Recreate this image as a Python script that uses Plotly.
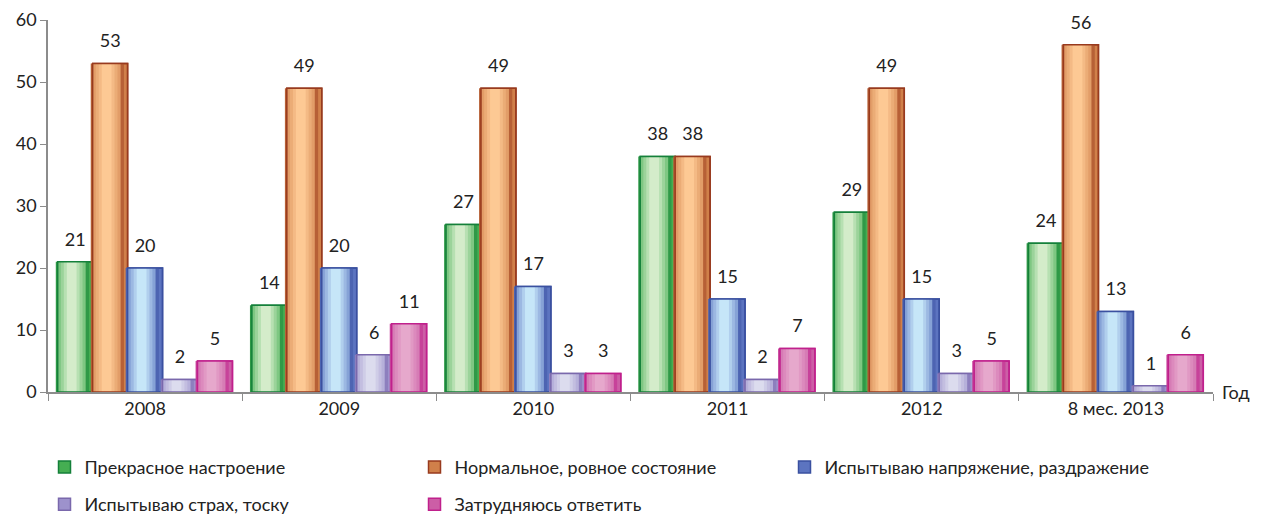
import plotly.graph_objects as go

categories = ["2008", "2009", "2010", "2011", "2012", "8 мес. 2013"]
series_names = [
    "Прекрасное настроение",
    "Нормальное, ровное состояние",
    "Испытываю напряжение, раздражение",
    "Испытываю страх, тоску",
    "Затрудняюсь ответить",
]
great_mood = [21, 14, 27, 38, 29, 24]
normal_state = [53, 49, 49, 38, 49, 56]
tension = [20, 20, 17, 15, 15, 13]
fear = [2, 6, 3, 2, 3, 1]
no_answer = [5, 11, 3, 7, 5, 6]
series_values = [great_mood, normal_state, tension, fear, no_answer]
y_ticks = [0, 10, 20, 30, 40, 50, 60]

# (edge, mid, light) colours per series
palettes = [
    ("#14803a", "#45ae52", "#d4ecca"),
    ("#983a1e", "#d0804a", "#fdc994"),
    ("#3a50a0", "#5c74c0", "#c6e6f8"),
    ("#7a68ac", "#9d92cc", "#dcdcee"),
    ("#c0208c", "#cc5ea6", "#e6a8cc"),
]

def mix(c1, c2, t):
    a = [int(c1[i:i + 2], 16) for i in (1, 3, 5)]
    b = [int(c2[i:i + 2], 16) for i in (1, 3, 5)]
    return "#" + "".join(f"{round(a[k] + (b[k] - a[k]) * t):02x}" for k in range(3))

FONT = "Lato, Open Sans, Noto Sans, sans-serif"
FS = 18
LABEL_GAP = 1.5  # visual gap (axis units) between bar top and its value label
n = len(series_values)
bw = 0.9 / n
fig = go.Figure()

for i, (name, vals) in enumerate(zip(series_names, series_values)):
    edge, mid, light = palettes[i]
    off = -0.45 + i * bw
    # base bar (legend entry)
    fig.add_trace(go.Bar(
        x=categories, y=vals, name=name, width=bw, offset=off,
        marker=dict(color=mid, line=dict(color=edge, width=1.5)),
        legend="legend" if i < 3 else "legend2",
    ))
    # gradient layers (cylinder shading, highlight left of centre)
    fracs = [0.95, 0.8, 0.62, 0.45, 0.28]
    center = off + bw * 0.40
    for k, f in enumerate(fracs):
        t = (k + 1) / len(fracs)
        col = mix(mid, light, t)
        w = bw * f
        fig.add_trace(go.Bar(
            x=categories, y=vals, width=w, offset=center - w / 2 + (0.02 * bw if k == 0 else 0),
            marker=dict(color=col if k else mix(edge, mid, 0.55), line=dict(width=0)),
            showlegend=False, hoverinfo="skip",
        ))
    # outline
    fig.add_trace(go.Bar(
        x=categories, y=vals, width=bw, offset=off,
        marker=dict(color="rgba(0,0,0,0)", line=dict(color=edge, width=1.5)),
        showlegend=False, hoverinfo="skip",
    ))
    # invisible spacer bar carrying the value label above the bar top
    fig.add_trace(go.Bar(
        x=categories, y=[LABEL_GAP] * len(vals), base=vals, width=bw, offset=off,
        marker=dict(color="rgba(0,0,0,0)", line=dict(width=0)),
        text=[str(v) for v in vals], textposition="outside", cliponaxis=False,
        textfont=dict(family=FONT, size=FS, color="#222222"),
        showlegend=False, hoverinfo="skip",
    ))

legend_common = dict(
    orientation="h", xanchor="left", yanchor="top",
    entrywidth=325, entrywidthmode="pixels",
    font=dict(family=FONT, size=FS, color="#222222"),
    traceorder="normal", bgcolor="rgba(0,0,0,0)",
)

fig.update_layout(
    width=1256, height=507,
    barmode="overlay",
    plot_bgcolor="white", paper_bgcolor="white",
    margin=dict(l=40, r=51, t=12, b=123, autoexpand=False),
    font=dict(family=FONT, size=FS, color="#222222"),
    showlegend=True,
    legend=dict(x=-0.003, y=-0.153, **legend_common),
    legend2=dict(x=-0.003, y=-0.253, **legend_common),
    xaxis=dict(
        type="category", categoryorder="array", categoryarray=categories,
        showline=True, linecolor="#8c8c8c", linewidth=1.5,
        ticks="outside", tickson="boundaries", ticklen=7, tickcolor="#8c8c8c",
        tickfont=dict(family=FONT, size=FS, color="#222222"),
        showgrid=False, range=[-0.5, 5.5], ticklabeloverflow="allow",
    ),
    yaxis=dict(
        range=[0, 60], tickvals=y_ticks, ticktext=[str(v) for v in y_ticks],
        showline=True, linecolor="#8c8c8c", linewidth=1.5,
        ticks="outside", ticklen=6, tickcolor="#8c8c8c",
        tickfont=dict(family=FONT, size=FS, color="#222222"),
        showgrid=False, zeroline=False, ticklabeloverflow="allow",
    ),
    annotations=[dict(
        text="Год", xref="paper", yref="y", x=1.006, y=0,
        xanchor="left", yanchor="middle", showarrow=False,
        font=dict(family=FONT, size=FS, color="#222222"),
    )],
)

fig.write_html("out.html")
